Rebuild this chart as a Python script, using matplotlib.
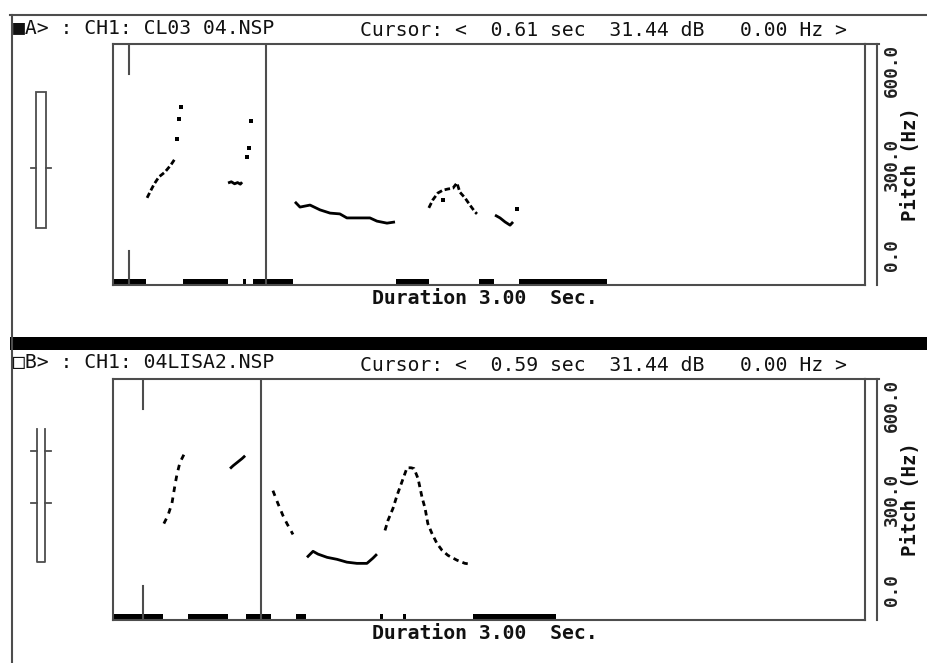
import matplotlib
matplotlib.use("Agg")
import matplotlib.pyplot as plt
from matplotlib.patches import Rectangle
from matplotlib.transforms import blended_transform_factory

# ---------------- data ----------------
duration_sec = 3.0
pitch_max_hz = 600
pitch_tick_values = [0, 300, 600]
pitch_tick_labels = ["0.0", "300.0", "600.0"]

title_a = "■A> : CH1: CL03 04.NSP"
cursor_a = "Cursor: <  0.61 sec  31.44 dB   0.00 Hz >"
title_b = "□B> : CH1: 04LISA2.NSP"
cursor_b = "Cursor: <  0.59 sec  31.44 dB   0.00 Hz >"
duration_label = "Duration 3.00  Sec."
pitch_axis_label = "Pitch (Hz)"

a_cursor_sec = 0.61
a_marker_sec = 0.064
b_cursor_sec = 0.59
b_marker_sec = 0.12

# panel A pitch contours (sec, Hz)
a_seg_t = [
    [0.136, 0.148, 0.164, 0.183, 0.207, 0.231, 0.247],
    [0.459, 0.472, 0.485, 0.497, 0.508, 0.515],
    [0.726, 0.746, 0.786, 0.826, 0.866, 0.905, 0.933, 0.985, 1.025, 1.053, 1.093, 1.125],
    [1.260, 1.276, 1.296, 1.316, 1.336, 1.356, 1.372, 1.384, 1.404, 1.424, 1.444, 1.452],
    [1.524, 1.544, 1.564, 1.584, 1.596],
]
a_seg_hz = [
    [217, 232, 251, 269, 281, 299, 314],
    [254, 257, 252, 255, 251, 256],
    [207, 194, 199, 187, 179, 177, 167, 167, 167, 159, 154, 157],
    [192, 212, 229, 236, 239, 241, 254, 231, 217, 199, 182, 177],
    [174, 167, 157, 149, 157],
]
a_dot_t = [0.255, 0.263, 0.271, 0.534, 0.543, 0.550, 1.316, 1.612]
a_dot_hz = [363, 413, 443, 319, 341, 408, 212, 189]

a_voiced_start = [0.00, 0.28, 0.52, 0.56, 1.13, 1.46, 1.62]
a_voiced_end = [0.13, 0.46, 0.53, 0.72, 1.26, 1.52, 1.97]

# panel B pitch contours (sec, Hz)
b_seg_t = [
    [0.203, 0.219, 0.235, 0.239, 0.247, 0.255, 0.267, 0.275, 0.287, 0.295],
    [0.467, 0.479, 0.495, 0.515, 0.527],
    [0.638, 0.658, 0.678, 0.694, 0.718],
    [0.774, 0.798, 0.818, 0.854, 0.894, 0.933, 0.973, 1.013, 1.037, 1.053],
    [1.085, 1.097, 1.117, 1.129, 1.137, 1.173, 1.189, 1.201, 1.217, 1.233, 1.245,
     1.256, 1.272, 1.292, 1.312, 1.336, 1.372, 1.404, 1.428],
]
b_seg_hz = [
    [240, 260, 290, 305, 335, 362, 392, 402, 417, 417],
    [377, 384, 392, 402, 409],
    [322, 290, 260, 240, 213],
    [156, 171, 164, 156, 151, 144, 141, 141, 154, 164],
    [223, 248, 278, 302, 317, 379, 379, 377, 352, 305, 278,
     240, 216, 191, 174, 161, 149, 141, 139],
]
b_voiced_start = [0.00, 0.30, 0.53, 0.73, 1.065, 1.157, 1.436]
b_voiced_end = [0.20, 0.46, 0.63, 0.77, 1.077, 1.169, 1.767]

# ---------------- drawing ----------------
W, H = 928, 663
fig = plt.figure(figsize=(W / 100, H / 100), dpi=100)
fig.patch.set_facecolor("white")
bg = fig.add_axes([0, 0, 1, 1])
bg.set_xlim(0, W)
bg.set_ylim(H, 0)
bg.set_axis_off()

FRAME = "#4d4d4d"
MONO = "DejaVu Sans Mono"
FS = 14.2

# outer frame
bg.plot([12, 12], [15, H], color=FRAME, lw=1.5)
bg.plot([10, W], [15, 15], color=FRAME, lw=1.5)
bg.add_patch(Rectangle((10, 337), W - 10, 13, color="black", lw=0))

panels = [
    dict(off=0, title=title_a, cursor=cursor_a, cur=a_cursor_sec, mark=a_marker_sec,
         seg_t=a_seg_t, seg_hz=a_seg_hz, dot_t=a_dot_t, dot_hz=a_dot_hz,
         vs=a_voiced_start, ve=a_voiced_end,
         styles=[(0, (2, 1)), "-", "-", (0, (2, 1)), "-"]),
    dict(off=335, title=title_b, cursor=cursor_b, cur=b_cursor_sec, mark=b_marker_sec,
         seg_t=b_seg_t, seg_hz=b_seg_hz, dot_t=[], dot_hz=[],
         vs=b_voiced_start, ve=b_voiced_end,
         styles=[(0, (2, 2)), "-", (0, (2, 2)), "-", (0, (2, 1.5))]),
]

for k, p in enumerate(panels):
    off = p["off"]
    top, bot = 44 + off, 285 + off
    ax = fig.add_axes([113 / W, 1 - bot / H, 752 / W, (bot - top) / H])
    ax.set_facecolor("none")
    ax.set_xlim(0, duration_sec)
    ax.set_ylim(0, pitch_max_hz)
    ax.set_xticks([])
    ax.set_yticks([])
    for s in ax.spines.values():
        s.set_color(FRAME)
        s.set_linewidth(1.5)

    # second right line
    bg.plot([877, 877], [top, bot], color=FRAME, lw=1.5)
    bg.plot([865, 879], [top, top], color=FRAME, lw=1.5)

    # cursor and marker
    ax.axvline(p["cur"], color=FRAME, lw=1.5)
    ax.axvline(p["mark"], ymin=0.875, ymax=1, color=FRAME, lw=1.5)
    ax.axvline(p["mark"], ymin=0, ymax=0.14, color=FRAME, lw=1.5)

    # voiced bars
    ax.broken_barh([(s, e - s) for s, e in zip(p["vs"], p["ve"])], (0, 15),
                   facecolor="black", edgecolor="none")

    # pitch contours
    for t, hz, ls in zip(p["seg_t"], p["seg_hz"], p["styles"]):
        ax.plot(t, hz, color="black", lw=2.0, ls=ls, solid_capstyle="butt")
    if p["dot_t"]:
        ax.plot(p["dot_t"], p["dot_hz"], "s", color="black", ms=2.3, mew=0)

    # right pitch labels
    tr = blended_transform_factory(ax.transAxes, ax.transData)
    vas = ["bottom", "center", "top"]
    for v, lab, va in zip(pitch_tick_values, pitch_tick_labels, vas):
        yy = v + (35 if va == "bottom" else 0)
        ax.text(1.024, yy, lab, transform=tr, rotation=90, va=va, ha="left",
                family=MONO, fontsize=FS - 1.5, weight="bold", color="#222222")
    ax.text(1.061, 0.5, pitch_axis_label, transform=ax.transAxes, rotation=90,
            va="center", ha="center", family=MONO, fontsize=FS - 0.6, weight="bold",
            color="#111111")

    # header texts
    bg.text(13, 33 + off, p["title"], family=MONO, fontsize=FS, va="baseline",
            ha="left", color="#111111")
    bg.text(360, 36 + off, p["cursor"], family=MONO, fontsize=FS, va="baseline",
            ha="left", color="#111111")
    bg.text(372, 304 + off, duration_label, family=MONO, fontsize=FS,
            weight="bold", va="baseline", ha="left", color="#111111")

# left sliders
bg.add_patch(Rectangle((36, 92), 10, 136, fill=False, edgecolor=FRAME, lw=1.3))
bg.plot([31, 36], [168, 168], color=FRAME, lw=1.3)
bg.plot([46, 51], [168, 168], color=FRAME, lw=1.3)

bg.plot([37, 37, 45, 45], [429, 562, 562, 429], color=FRAME, lw=1.3)
for yy in (451, 503):
    bg.plot([31, 37], [yy, yy], color=FRAME, lw=1.3)
    bg.plot([45, 51], [yy, yy], color=FRAME, lw=1.3)

fig.savefig("out.png", dpi=100, facecolor="white")
